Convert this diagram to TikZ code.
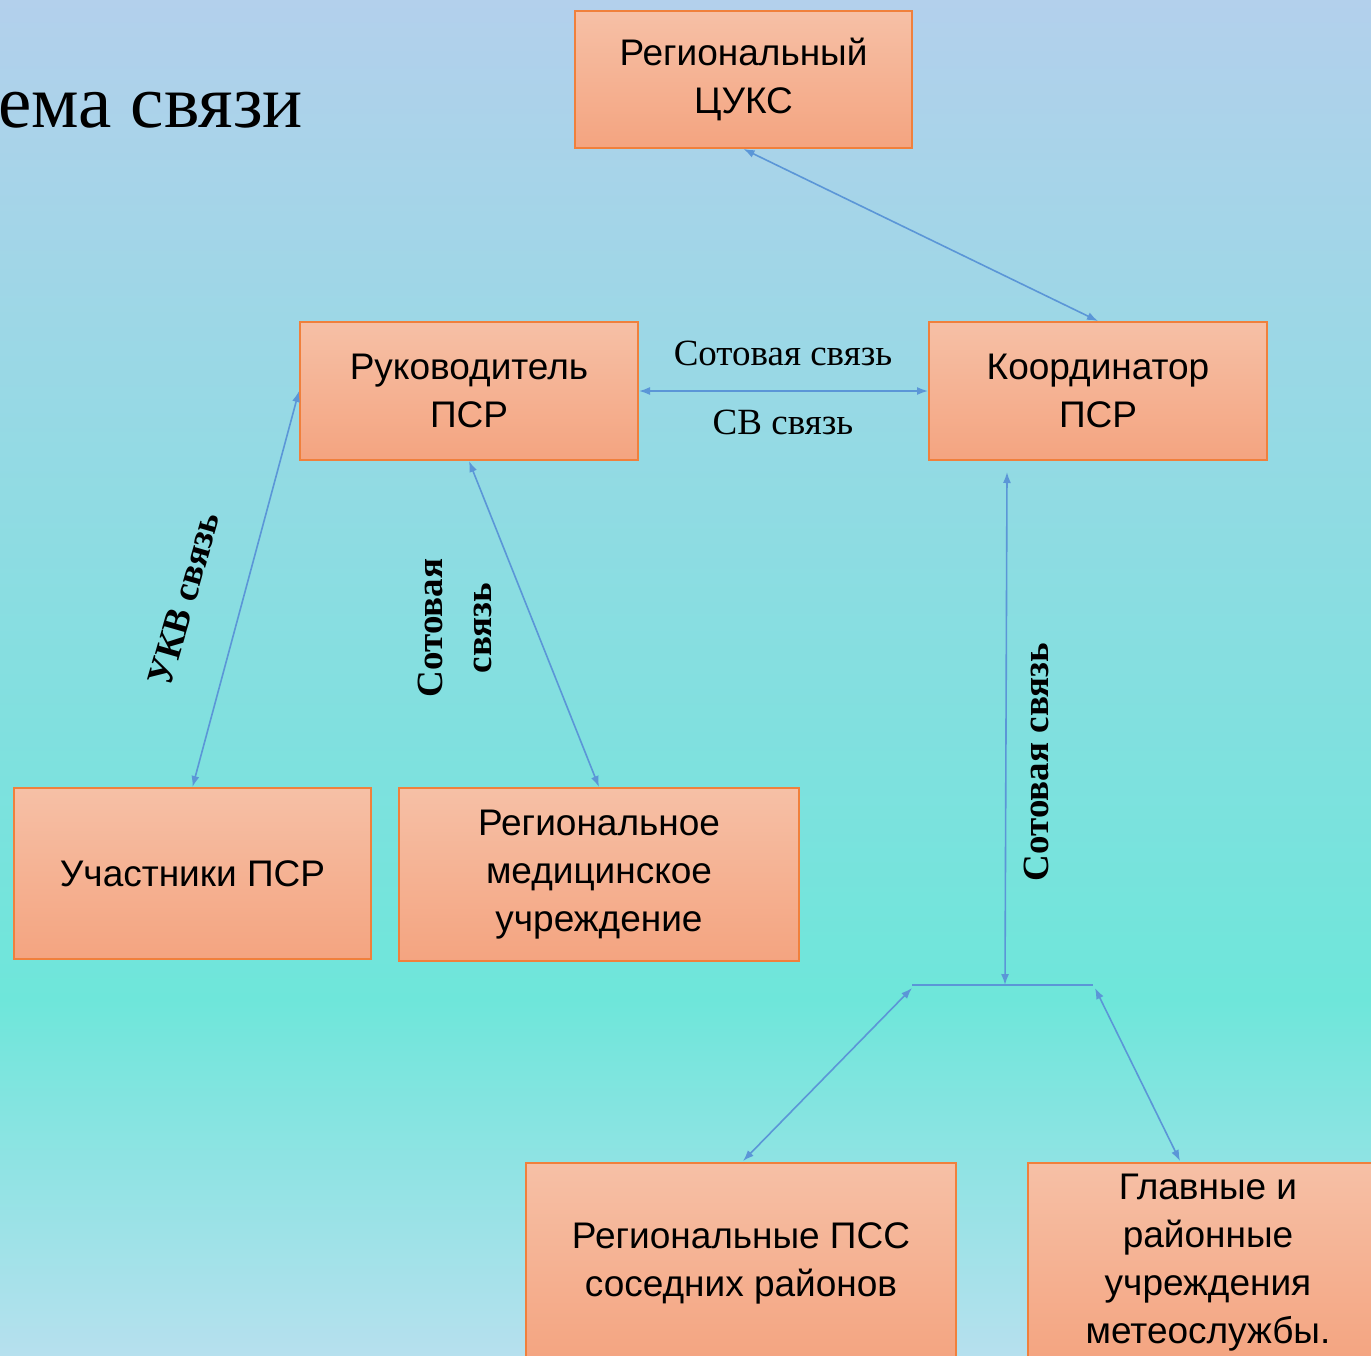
\documentclass[tikz,border=0pt]{standalone}
\usepackage{fontspec}
\setmainfont{Liberation Serif}
\newfontfamily\boxfont{Liberation Sans}
\usetikzlibrary{arrows.meta,calc}
\definecolor{bgtop}{RGB}{179,208,236}
\definecolor{bgmid}{RGB}{110,230,218}
\definecolor{bgbot}{RGB}{182,224,238}
\definecolor{boxtop}{RGB}{246,192,166}
\definecolor{boxbot}{RGB}{244,164,128}
\definecolor{boxline}{RGB}{240,128,60}
\definecolor{linkc}{RGB}{91,150,215}
\begin{document}
\begin{tikzpicture}[x=1pt,y=-1pt,
 box/.style={draw=boxline, line width=2pt, top color=boxtop, bottom color=boxbot, align=center, font=\boxfont\fontsize{37}{48}\selectfont, inner sep=0pt},
 link/.style={draw=linkc, line width=1.6pt, {Latex[length=11pt,width=8pt]}-{Latex[length=11pt,width=8pt]}},
 plain/.style={draw=linkc, line width=1.6pt},
 lab/.style={font=\fontsize{37}{44}\selectfont, inner sep=0pt},
 blab/.style={font=\bfseries\fontsize{37}{49}\selectfont, align=center, inner sep=0pt}]
\useasboundingbox (0,0) rectangle (1371,1355);
\clip (0,0) rectangle (1371,1355);
\shade[top color=bgtop, bottom color=bgmid] (0,0) rectangle (1371,1000);
\shade[top color=bgmid, bottom color=bgbot] (0,999) rectangle (1371,1355);

\node[anchor=base east, font=\fontsize{75}{80}\selectfont, inner sep=0pt] (title) at (303,127) {ема связи};

\node[box, minimum width=337pt, minimum height=137pt] (cuks) at (743.5,79.5) {Региональный\\ЦУКС};
\node[box, minimum width=338pt, minimum height=138pt] (ruk) at (469,391) {Руководитель\\ПСР};
\node[box, minimum width=338pt, minimum height=138pt] (koord) at (1098,391) {Координатор\\ПСР};
\node[box, minimum width=357pt, minimum height=171pt] (uch) at (192.5,873.5) {Участники ПСР};
\node[box, minimum width=400pt, minimum height=173pt] (med) at (599,874.5) {Региональное\\медицинское\\учреждение};
\node[box, minimum width=430pt, minimum height=200pt] (pss) at (741,1263) {Региональные ПСС\\соседних районов};
\node[box, minimum width=360pt, minimum height=200pt] (met) at (1208,1263) {Главные и\\районные\\учреждения\\метеослужбы.};

\coordinate (kb) at (1007,472);
\coordinate (jm) at (1005,985);
\coordinate (jl) at (912,985);
\coordinate (jr) at (1093,985);
\coordinate (jla) at (912,988);
\coordinate (jra) at (1095,988);
\coordinate (mt) at (1180,1161);
\coordinate (pt) at (743,1161);

\draw[link] (cuks.south) -- (koord.north);
\draw[link] (ruk.east) -- (koord.west);
\draw[link] (ruk.west) -- (uch.north);
\draw[link] (ruk.south) -- (med.north);
\draw[link] (kb) -- (jm);
\draw[plain] (jl) -- (jr);
\draw[link] (jla) -- (pt);
\draw[link] (jra) -- (mt);

\node[lab] (l1) at (783,353) {Сотовая связь};
\node[lab] (l2) at (783,422) {СВ связь};
\node[blab, rotate=74] (l3) at (184,599) {УКВ связь};
\node[blab, rotate=90] (l4) at (455,628) {Сотовая\\связь};
\node[blab, rotate=90] (l5) at (1036,762) {Сотовая связь};
\end{tikzpicture}
\end{document}
